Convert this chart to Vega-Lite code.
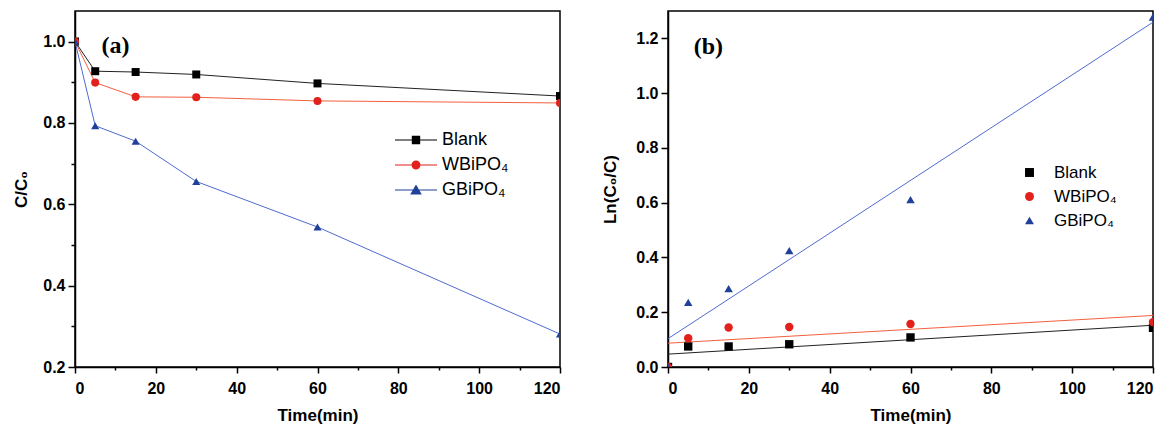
{
  "$schema": "https://vega.github.io/schema/vega-lite/v6.json",
  "background": "white",
  "padding": {"left": 12, "top": 10, "right": 0, "bottom": 0},
  "datasets": {
    "decay": [
      {"series": "Blank", "t": 0, "v": 1.0},
      {"series": "Blank", "t": 5, "v": 0.927},
      {"series": "Blank", "t": 15, "v": 0.925},
      {"series": "Blank", "t": 30, "v": 0.919},
      {"series": "Blank", "t": 60, "v": 0.897},
      {"series": "Blank", "t": 120, "v": 0.866},
      {"series": "WBiPO₄", "t": 0, "v": 1.0},
      {"series": "WBiPO₄", "t": 5, "v": 0.899},
      {"series": "WBiPO₄", "t": 15, "v": 0.864},
      {"series": "WBiPO₄", "t": 30, "v": 0.863},
      {"series": "WBiPO₄", "t": 60, "v": 0.854},
      {"series": "WBiPO₄", "t": 120, "v": 0.849},
      {"series": "GBiPO₄", "t": 0, "v": 1.0},
      {"series": "GBiPO₄", "t": 5, "v": 0.793},
      {"series": "GBiPO₄", "t": 15, "v": 0.755},
      {"series": "GBiPO₄", "t": 30, "v": 0.656},
      {"series": "GBiPO₄", "t": 60, "v": 0.544},
      {"series": "GBiPO₄", "t": 120, "v": 0.281}
    ],
    "kinetics": [
      {"series": "Blank", "t": 0, "v": 0},
      {"series": "Blank", "t": 5, "v": 0.075},
      {"series": "Blank", "t": 15, "v": 0.075},
      {"series": "Blank", "t": 30, "v": 0.083},
      {"series": "Blank", "t": 60, "v": 0.108},
      {"series": "Blank", "t": 120, "v": 0.143},
      {"series": "WBiPO₄", "t": 0, "v": 0},
      {"series": "WBiPO₄", "t": 5, "v": 0.105},
      {"series": "WBiPO₄", "t": 15, "v": 0.144},
      {"series": "WBiPO₄", "t": 30, "v": 0.146},
      {"series": "WBiPO₄", "t": 60, "v": 0.157},
      {"series": "WBiPO₄", "t": 120, "v": 0.164},
      {"series": "GBiPO₄", "t": 0, "v": 0},
      {"series": "GBiPO₄", "t": 5, "v": 0.236},
      {"series": "GBiPO₄", "t": 15, "v": 0.286},
      {"series": "GBiPO₄", "t": 30, "v": 0.425},
      {"series": "GBiPO₄", "t": 60, "v": 0.611},
      {"series": "GBiPO₄", "t": 120, "v": 1.278}
    ]
  },
  "config": {
    "view": {"stroke": "black", "strokeWidth": 1.5},
    "axis": {
      "grid": false,
      "domainColor": "black",
      "domainWidth": 1.5,
      "tickColor": "black",
      "tickWidth": 1.5,
      "labelFont": "Liberation Sans",
      "labelFontWeight": "bold",
      "labelFontSize": 16,
      "labelColor": "black",
      "titleFont": "Liberation Sans",
      "titleFontWeight": "bold",
      "titleFontSize": 17,
      "titleColor": "black"
    },
    "legend": {"labelFont": "Liberation Sans", "labelColor": "black"}
  },
  "spacing": 108,
  "bounds": "flush",
  "hconcat": [
    {
      "width": 485,
      "height": 356,
      "data": {"name": "decay"},
      "resolve": {"scale": {"color": "independent", "shape": "independent", "size": "independent"}},
      "layer": [
        {
          "mark": {"type": "line", "strokeWidth": 1, "clip": true},
          "encoding": {
            "x": {
              "field": "t", "type": "quantitative",
              "scale": {"domain": [0, 120], "nice": false, "zero": false},
              "axis": {
                "title": "Time(min)",
                "values": [0, 10, 20, 30, 40, 50, 60, 70, 80, 90, 100, 110, 120],
                "labelExpr": "datum.value % 20 === 0 ? datum.label : ''",
                "tickSize": {"condition": {"test": "datum.value % 20 === 0", "value": 6}, "value": 3},
                "labelPadding": 7,
                "titlePadding": 11
              }
            },
            "y": {
              "field": "v", "type": "quantitative",
              "scale": {"domain": [0.2, 1.075], "nice": false, "zero": false},
              "axis": {
                "title": "C/C₀",
                "values": [0.2, 0.3, 0.4, 0.5, 0.6, 0.7, 0.8, 0.9, 1.0],
                "format": ".1f",
                "labelExpr": "round(datum.value * 10) % 2 === 0 ? datum.label : ''",
                "tickSize": {"condition": {"test": "round(datum.value * 10) % 2 === 0", "value": 7}, "value": 4},
                "labelPadding": 3,
                "titlePadding": 12
              }
            },
            "color": {
              "field": "series", "type": "nominal",
              "scale": {"domain": ["Blank", "WBiPO₄", "GBiPO₄"], "range": ["#222222", "#f2603f", "#4f6bd0"]},
              "legend": null
            }
          }
        },
        {
          "mark": {"type": "point", "filled": true, "opacity": 1, "clip": true},
          "encoding": {
            "x": {"field": "t", "type": "quantitative"},
            "y": {"field": "v", "type": "quantitative"},
            "color": {
              "field": "series", "type": "nominal",
              "scale": {"domain": ["Blank", "WBiPO₄", "GBiPO₄"], "range": ["#000000", "#e3211c", "#21409a"]},
              "legend": null
            },
            "shape": {
              "field": "series", "type": "nominal",
              "scale": {"domain": ["Blank", "WBiPO₄", "GBiPO₄"], "range": ["square", "circle", "triangle-up"]},
              "legend": null
            },
            "size": {
              "field": "series", "type": "nominal",
              "scale": {"domain": ["Blank", "WBiPO₄", "GBiPO₄"], "range": [64, 66, 165]},
              "legend": null
            }
          }
        },
        {
          "transform": [{"filter": "datum.t < 0"}],
          "mark": {"type": "point", "filled": true, "opacity": 1},
          "encoding": {
            "x": {"field": "t", "type": "quantitative"},
            "y": {"field": "v", "type": "quantitative"},
            "color": {
              "field": "series", "type": "nominal",
              "scale": {"domain": ["Blank", "WBiPO₄", "GBiPO₄"], "range": ["#000000", "#e3211c", "#21409a"]},
              "legend": {"orient": "none", "legendX": 331, "legendY": 119, "title": null, "symbolSize": 400, "symbolOpacity": 1, "labelFontSize": 18, "labelOffset": 16, "rowPadding": 6, "padding": 0, "symbolStrokeWidth": 0}
            },
            "shape": {
              "field": "series", "type": "nominal",
              "scale": {
                "domain": ["Blank", "WBiPO₄", "GBiPO₄"],
                "range": [
                  "M-2.1,-0.05H2.1V0.05H-2.1Z M-0.42,-0.42H0.42V0.42H-0.42Z",
                  "M-2.1,-0.05H2.1V0.05H-2.1Z M-0.45,0A0.45,0.45,0,1,1,0.45,0A0.45,0.45,0,1,1,-0.45,0Z",
                  "M-2.1,-0.05H2.1V0.05H-2.1Z M0,-0.55L0.58,0.45H-0.58Z"
                ]
              },
              "legend": {"orient": "none", "legendX": 331, "legendY": 119, "title": null, "symbolSize": 400, "symbolOpacity": 1, "labelFontSize": 18, "labelOffset": 16, "rowPadding": 6, "padding": 0, "symbolStrokeWidth": 0}
            }
          }
        },
        {
          "data": {"values": [{"label": "(a)"}]},
          "mark": {"type": "text", "font": "Liberation Serif", "fontWeight": "bold", "fontSize": 24, "align": "center", "baseline": "middle", "color": "black"},
          "encoding": {
            "x": {"datum": 10},
            "y": {"datum": 0.99},
            "text": {"field": "label"}
          }
        }
      ]
    },
    {
      "width": 485,
      "height": 356,
      "data": {"name": "kinetics"},
      "resolve": {"scale": {"color": "independent", "shape": "independent", "size": "independent"}},
      "layer": [
        {
          "transform": [{"regression": "v", "on": "t", "groupby": ["series"], "method": "linear", "extent": [0, 120]}],
          "mark": {"type": "line", "strokeWidth": 1, "clip": true},
          "encoding": {
            "x": {
              "field": "t", "type": "quantitative",
              "scale": {"domain": [0, 120], "nice": false, "zero": false},
              "axis": {
                "title": "Time(min)",
                "values": [0, 10, 20, 30, 40, 50, 60, 70, 80, 90, 100, 110, 120],
                "labelExpr": "datum.value % 20 === 0 ? datum.label : ''",
                "tickSize": {"condition": {"test": "datum.value % 20 === 0", "value": 6}, "value": 3},
                "labelPadding": 7,
                "titlePadding": 11
              }
            },
            "y": {
              "field": "v", "type": "quantitative",
              "scale": {"domain": [0, 1.3], "nice": false},
              "axis": {
                "title": "Ln(C₀/C)",
                "values": [0, 0.1, 0.2, 0.3, 0.4, 0.5, 0.6, 0.7, 0.8, 0.9, 1.0, 1.1, 1.2],
                "format": ".1f",
                "labelExpr": "round(datum.value * 10) % 2 === 0 ? datum.label : ''",
                "tickSize": {"condition": {"test": "round(datum.value * 10) % 2 === 0", "value": 7}, "value": 4},
                "labelPadding": 3,
                "titlePadding": 16
              }
            },
            "color": {
              "field": "series", "type": "nominal",
              "scale": {"domain": ["Blank", "WBiPO₄", "GBiPO₄"], "range": ["#222222", "#f2603f", "#4f6bd0"]},
              "legend": null
            }
          }
        },
        {
          "mark": {"type": "point", "filled": true, "opacity": 1, "clip": true},
          "encoding": {
            "x": {"field": "t", "type": "quantitative"},
            "y": {"field": "v", "type": "quantitative"},
            "color": {
              "field": "series", "type": "nominal",
              "scale": {"domain": ["Blank", "WBiPO₄", "GBiPO₄"], "range": ["#000000", "#e3211c", "#21409a"]},
              "legend": null
            },
            "shape": {
              "field": "series", "type": "nominal",
              "scale": {"domain": ["Blank", "WBiPO₄", "GBiPO₄"], "range": ["square", "circle", "triangle-up"]},
              "legend": null
            },
            "size": {
              "field": "series", "type": "nominal",
              "scale": {"domain": ["Blank", "WBiPO₄", "GBiPO₄"], "range": [70, 72, 165]},
              "legend": null
            }
          }
        },
        {
          "transform": [{"filter": "datum.t < 0"}],
          "mark": {"type": "point", "filled": true, "opacity": 1},
          "encoding": {
            "x": {"field": "t", "type": "quantitative"},
            "y": {"field": "v", "type": "quantitative"},
            "color": {
              "field": "series", "type": "nominal",
              "scale": {"domain": ["Blank", "WBiPO₄", "GBiPO₄"], "range": ["#000000", "#e3211c", "#21409a"]},
              "legend": {"orient": "none", "legendX": 353, "legendY": 153, "title": null, "symbolSize": 80, "symbolOpacity": 1, "labelFontSize": 17, "labelOffset": 16, "rowPadding": 6, "padding": 0, "symbolStrokeWidth": 0}
            },
            "shape": {
              "field": "series", "type": "nominal",
              "scale": {"domain": ["Blank", "WBiPO₄", "GBiPO₄"], "range": ["square", "circle", "triangle-up"]},
              "legend": {"orient": "none", "legendX": 353, "legendY": 153, "title": null, "symbolSize": 80, "symbolOpacity": 1, "labelFontSize": 17, "labelOffset": 16, "rowPadding": 6, "padding": 0, "symbolStrokeWidth": 0}
            }
          }
        },
        {
          "data": {"values": [{"label": "(b)"}]},
          "mark": {"type": "text", "font": "Liberation Serif", "fontWeight": "bold", "fontSize": 24, "align": "center", "baseline": "middle", "color": "black"},
          "encoding": {
            "x": {"datum": 10},
            "y": {"datum": 1.17},
            "text": {"field": "label"}
          }
        }
      ]
    }
  ]
}
